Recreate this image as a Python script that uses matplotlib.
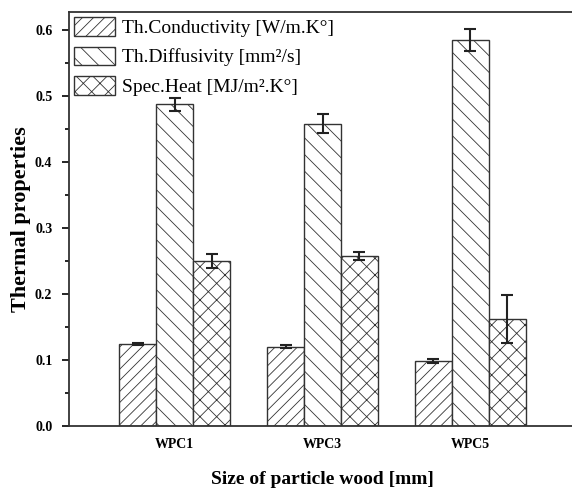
import numpy as np
import matplotlib
matplotlib.use("Agg")
import matplotlib.pyplot as plt
from matplotlib.ticker import MultipleLocator

plt.rcParams["font.family"] = ["Liberation Serif", "DejaVu Serif"]
plt.rcParams["hatch.linewidth"] = 0.6

samples = ["WPC1", "WPC3", "WPC5"]
series = ["Th.Conductivity [W/m.K°]", "Th.Diffusivity [mm²/s]", "Spec.Heat [MJ/m².K°]"]
conductivity = [0.124, 0.120, 0.098]
conductivity_err = [0.002, 0.002, 0.003]
diffusivity = [0.487, 0.458, 0.585]
diffusivity_err = [0.010, 0.015, 0.017]
spec_heat = [0.250, 0.258, 0.162]
spec_heat_err = [0.011, 0.006, 0.037]

values = [conductivity, diffusivity, spec_heat]
errors = [conductivity_err, diffusivity_err, spec_heat_err]
hatches = ["///", "\\\\", "xx"]

fig = plt.figure(figsize=(5.72, 4.91), dpi=100)
ax = fig.add_axes([69 / 572, 1 - 426 / 491, 507 / 572, 414 / 491])

x = np.arange(len(samples))
width = 0.25
for i in range(3):
    ax.bar(x + (i - 1) * width, values[i], width, yerr=errors[i],
           color="white", edgecolor="#333333", linewidth=1.0, hatch=hatches[i],
           label=series[i],
           error_kw=dict(ecolor="#222222", elinewidth=1.5, capsize=4, capthick=1.5))

ax.set_xlim(-0.713, 2.713)
ax.set_ylim(0, 0.627)
ax.set_xticks(x)
ax.set_xticklabels(samples, fontsize=10, fontweight="bold")
ax.tick_params(axis="x", length=0, pad=9)
ax.yaxis.set_major_locator(MultipleLocator(0.1))
ax.yaxis.set_minor_locator(MultipleLocator(0.05))
ax.yaxis.set_major_formatter(matplotlib.ticker.FormatStrFormatter("%.1f"))
ax.tick_params(axis="y", which="major", length=5, width=1.2, pad=7, labelsize=10)
ax.tick_params(axis="y", which="minor", length=3, width=1.2)
for lab in ax.get_yticklabels():
    lab.set_fontweight("bold")
for s in ax.spines.values():
    s.set_color("#333333")
    s.set_linewidth(1.3)

ax.set_xlabel("Size of particle wood [mm]", fontsize=14, fontweight="bold", labelpad=14)
ax.set_ylabel("Thermal properties", fontsize=16, fontweight="bold", labelpad=3)

ax.legend(loc="upper left", frameon=False, fontsize=14, handlelength=2.1,
          handleheight=1.1, labelspacing=0.5, handletextpad=0.35,
          borderaxespad=0.15, borderpad=0.1)

fig.savefig("out.png", dpi=100)
